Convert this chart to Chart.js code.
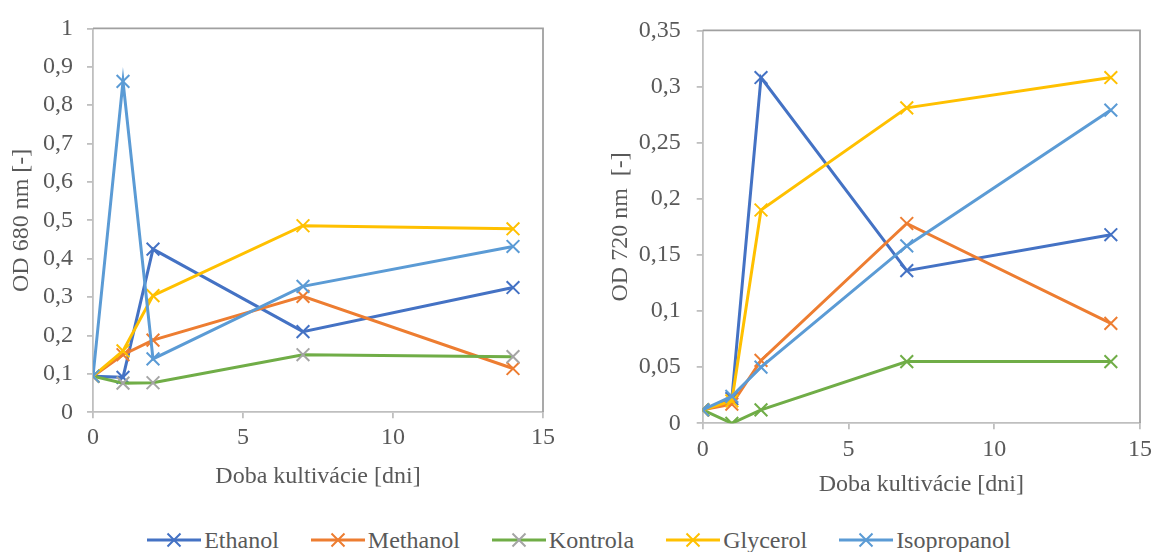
<!DOCTYPE html>
<html>
<head>
<meta charset="utf-8">
<script src="https://cdn.jsdelivr.net/npm/chart.js@4/dist/chart.umd.min.js"></script>
<style>
  body { margin: 0; background: #fff; }
  .box { position: absolute; top: 0; height: 500px; }
  #legend {
    position: absolute; top: 525px; left: 0; width: 1158px; height: 30px;
    display: flex; justify-content: center; align-items: center; gap: 32px;
    font-family: "Liberation Serif", serif; font-size: 24px; color: #595959;
  }
  #legend .item { display: flex; align-items: center; }
  #legend svg { margin-right: 3px; }
</style>
</head>
<body>
<div class="box" style="left:0;width:580px"><canvas id="odLeft"></canvas></div>
<div class="box" style="left:580px;width:578px"><canvas id="odRight"></canvas></div>
<div id="legend"></div>
<script>
// days of cultivation
const days = [0, 1, 2, 7, 14];
const seriesNames = ['Ethanol', 'Methanol', 'Kontrola', 'Glycerol', 'Isopropanol'];
const lineColors = ['#4472C4', '#ED7D31', '#70AD47', '#FFC000', '#5B9BD5'];
const markerColorsLeft = ['#4472C4', '#ED7D31', '#A5A5A5', '#FFC000', '#5B9BD5'];

// OD 680 nm
const ethanol680 = [0.094, 0.091, 0.425, 0.210, 0.325];
const methanol680 = [0.094, 0.150, 0.188, 0.302, 0.114];
const kontrola680 = [0.094, 0.076, 0.077, 0.150, 0.145];
const glycerol680 = [0.094, 0.160, 0.304, 0.486, 0.478];
const isopropanol680 = [0.094, 0.862, 0.139, 0.328, 0.432];

// OD 720 nm
const ethanol720 = [0.012, 0.022, 0.308, 0.136, 0.168];
const methanol720 = [0.012, 0.017, 0.056, 0.178, 0.089];
const kontrola720 = [0.012, 0.000, 0.012, 0.055, 0.055];
const glycerol720 = [0.012, 0.020, 0.190, 0.281, 0.308];
const isopropanol720 = [0.012, 0.024, 0.050, 0.158, 0.279];

const fontFamily = "'Liberation Serif', serif";
const textColor = '#595959';
const fontSize = 24;

const toPoints = (vals) => vals.map((v, i) => ({ x: days[i], y: v }));
const commaFmt = (v) => String(Math.round(v * 100) / 100).replace('.', ',');

function makeDatasets(seriesValues, markerColors) {
  return seriesValues.map((vals, i) => ({
    label: seriesNames[i],
    data: toPoints(vals),
    borderColor: lineColors[i],
    backgroundColor: lineColors[i],
    pointBorderColor: markerColors[i],
    pointStyle: 'crossRot',
    pointRadius: 9,
    pointBorderWidth: 2,
    borderWidth: 3,
    showLine: true,
    tension: 0,
    order: seriesValues.length - i,
  }));
}

// plot area frame (top + right)
const frame = {
  id: 'frame',
  afterDraw(chart) {
    const { ctx, chartArea: a } = chart;
    ctx.save();
    ctx.strokeStyle = '#A0A0A0';
    ctx.lineWidth = 1.8;
    ctx.beginPath();
    ctx.moveTo(a.left, a.top);
    ctx.lineTo(a.right, a.top);
    ctx.lineTo(a.right, a.bottom);
    ctx.stroke();
    ctx.restore();
  }
};

function makeChart(id, datasets, cfg) {
  return new Chart(id, {
    type: 'scatter',
    data: { datasets: datasets },
    plugins: [frame],
    options: {
      animation: false,
      maintainAspectRatio: false,
      layout: { padding: cfg.padding },
      plugins: { legend: { display: false }, tooltip: { enabled: false } },
      scales: {
        x: {
          type: 'linear', min: 0, max: 15,
          afterFit: (s) => { s.height = cfg.xHeight; },
          border: { color: '#BFBFBF', width: 1.8 },
          grid: { drawOnChartArea: false, tickLength: 6, color: '#BFBFBF', lineWidth: 1.8 },
          ticks: { stepSize: 5, padding: cfg.xTickPad, color: textColor, font: { family: fontFamily, size: fontSize } },
          title: {
            display: true, text: 'Doba kultivácie [dni]', color: textColor,
            font: { family: fontFamily, size: fontSize }, padding: { top: 0, bottom: cfg.xTitlePad }
          }
        },
        y: {
          min: 0, max: cfg.yMax,
          afterFit: (s) => { s.width = cfg.yWidth; },
          border: { color: '#BFBFBF', width: 1.8 },
          grid: { drawOnChartArea: false, tickLength: 6, color: '#BFBFBF', lineWidth: 1.8 },
          ticks: { stepSize: cfg.yStep, padding: cfg.yTickPad, color: textColor, callback: commaFmt, font: { family: fontFamily, size: fontSize } },
          title: {
            display: true, text: cfg.yTitle, color: textColor,
            font: { family: fontFamily, size: fontSize }, padding: { top: cfg.yTitlePad, bottom: 0 }
          }
        }
      }
    }
  });
}

makeChart('odLeft',
  makeDatasets([ethanol680, methanol680, kontrola680, glycerol680, isopropanol680], markerColorsLeft),
  { padding: { top: 22.7, right: 37, left: 0, bottom: 0 }, xHeight: 87.7, yWidth: 93,
    xTickPad: 5, xTitlePad: 8.5, yTickPad: 14, yTitlePad: 7,
    yMax: 1, yStep: 0.1, yTitle: 'OD 680 nm [-]' });

makeChart('odRight',
  makeDatasets([ethanol720, methanol720, kontrola720, glycerol720, isopropanol720], lineColors),
  { padding: { top: 25.7, right: 15.3, left: 0, bottom: 0 }, xHeight: 76.7, yWidth: 122.7,
    xTickPad: 6, xTitlePad: 0.5, yTickPad: 16, yTitlePad: 26,
    yMax: 0.35, yStep: 0.05, yTitle: 'OD 720 nm  [-]' });

// shared legend
const legend = document.getElementById('legend');
seriesNames.forEach((name, i) => {
  const item = document.createElement('div');
  item.className = 'item';
  item.innerHTML =
    '<svg width="54" height="24" viewBox="0 0 54 24">' +
    '<line x1="0" y1="12" x2="54" y2="12" stroke="' + lineColors[i] + '" stroke-width="3"/>' +
    '<path d="M20.5 5.5 L33.5 18.5 M33.5 5.5 L20.5 18.5" stroke="' + markerColorsLeft[i] + '" stroke-width="2"/>' +
    '</svg><span>' + name + '</span>';
  legend.appendChild(item);
});
</script>
</body>
</html>
